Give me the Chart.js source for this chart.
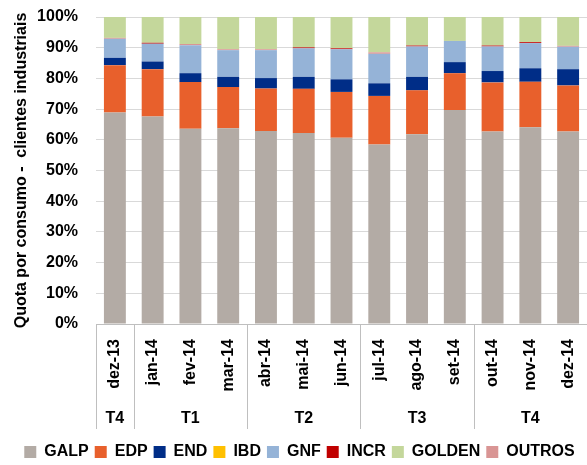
<!DOCTYPE html>
<html>
<head>
<meta charset="utf-8">
<script src="https://cdn.jsdelivr.net/npm/chart.js@4"></script>
<style>
  html, body { margin: 0; padding: 0; background: #fff; }
</style>
</head>
<body>
<canvas id="quota" width="587" height="465"></canvas>
<script>
var meses = ["dez-13", "jan-14", "fev-14", "mar-14", "abr-14", "mai-14", "jun-14",
             "jul-14", "ago-14", "set-14", "out-14", "nov-14", "dez-14"];
var trimestres = ["T4", "T1", "T2", "T3", "T4"];
var trimInicio = [0, 1, 4, 7, 10]; // first month index of each quarter

var galp   = [68.9, 67.6, 63.6, 63.8, 62.9, 62.2, 60.7, 58.5, 61.8, 69.7, 62.7, 64.1, 62.7];
var edp    = [15.4, 15.4, 15.2, 13.4, 13.8, 14.4, 14.9, 15.8, 14.3, 12.0, 16.0, 14.8, 15.0];
var endes  = [2.4, 2.5, 2.9, 3.3, 3.4, 3.9, 4.1, 4.1, 4.4, 3.6, 3.7, 4.4, 5.3];
var ibd    = [0, 0, 0, 0, 0, 0, 0, 0, 0, 0, 0, 0, 0];
var gnf    = [6.2, 5.8, 9.1, 8.7, 9.1, 9.3, 9.8, 9.6, 9.9, 6.9, 8.0, 8.2, 7.3];
var incr   = [0, 0.3, 0, 0, 0, 0.3, 0.3, 0, 0.3, 0, 0.3, 0.3, 0];
var golden = [6.8, 8.4, 8.8, 10.5, 10.5, 9.9, 10.2, 11.5, 9.3, 7.8, 9.3, 8.2, 9.4];
var outros = [0.3, 0, 0.4, 0.3, 0.3, 0, 0, 0.5, 0, 0, 0, 0, 0.3];

var fonte = "'Liberation Sans Narrow', 'Liberation Sans', Arial, sans-serif";

// group labels + separators under the month labels
var trimPlugin = {
    id: "trimestres",
    afterDraw: function (chart) {
        var ctx = chart.ctx;
        var x = chart.scales.x;
        var top = chart.chartArea.bottom;
        var bottom = top + 105;
        var step = x.getPixelForValue(1) - x.getPixelForValue(0);
        ctx.save();
        ctx.strokeStyle = "#BFBFBF";
        ctx.lineWidth = 1;
        var bordas = trimInicio.concat([meses.length]);
        bordas.forEach(function (i) {
            var px = Math.round(x.getPixelForValue(i) - step / 2) + 0.5;
            ctx.beginPath();
            ctx.moveTo(px, top);
            ctx.lineTo(px, bottom);
            ctx.stroke();
        });
        ctx.fillStyle = "#000";
        ctx.font = "bold 16px " + fonte;
        ctx.textAlign = "center";
        ctx.textBaseline = "middle";
        trimestres.forEach(function (t, k) {
            var a = x.getPixelForValue(bordas[k]) - step / 2;
            var b = x.getPixelForValue(bordas[k + 1]) - step / 2;
            ctx.fillText(t, (a + b) / 2, top + 95);
        });
        ctx.restore();
    }
};

function serie(label, data, cor, ordem) {
    return { label: label, data: data, backgroundColor: cor, order: ordem,
             barPercentage: 0.58, categoryPercentage: 1 };
}

new Chart(document.getElementById("quota"), {
    type: "bar",
    data: {
        labels: meses,
        datasets: [
            serie("GALP", galp, "#B3ABA5", 0),
            serie("EDP", edp, "#E8602C", 1),
            serie("END", endes, "#002D87", 2),
            serie("IBD", ibd, "#FFC000", 3),
            serie("GNF", gnf, "#95B3D7", 4),
            serie("INCR", incr, "#C00000", 5),
            serie("GOLDEN", golden, "#C4D79B", 7),
            serie("OUTROS", outros, "#D99594", 6)
        ]
    },
    options: {
        responsive: false,
        animation: false,
        layout: { padding: { top: 17, right: 0, left: 12, bottom: -5 } },
        plugins: {
            tooltip: { enabled: false },
            legend: {
                position: "bottom",
                labels: {
                    color: "#000",
                    font: { family: fonte, size: 16, weight: "bold" },
                    boxWidth: 12,
                    boxHeight: 12,
                    padding: 6,
                    sort: function (a, b) { return a.datasetIndex - b.datasetIndex; }
                }
            }
        },
        scales: {
            x: {
                stacked: true,
                grid: { display: false },
                border: { display: true, color: "#BFBFBF" },
                ticks: {
                    color: "#000",
                    font: { family: fonte, size: 16, weight: "bold" },
                    minRotation: 90,
                    maxRotation: 90,
                    autoSkip: false,
                    padding: 7
                },
                afterFit: function (scale) {
                    scale.height = 114;
                    scale.paddingRight = 0;
                    scale.paddingLeft = 0;
                }
            },
            y: {
                stacked: true,
                min: 0,
                max: 100,
                border: { display: false },
                grid: { color: "#D9D9D9", drawTicks: false },
                ticks: {
                    stepSize: 10,
                    color: "#000",
                    padding: 18,
                    font: { family: fonte, size: 16, weight: "bold" },
                    callback: function (v) { return v + "%"; }
                },
                title: {
                    display: true,
                    text: "Quota por consumo -  clientes industriais",
                    color: "#000",
                    font: { family: fonte, size: 16, weight: "bold" },
                    padding: { top: 0, bottom: 4 }
                },
                afterFit: function (scale) {
                    scale.width = 84;
                    scale.paddingTop = 0;
                    scale.paddingBottom = 0;
                }
            }
        }
    },
    plugins: [trimPlugin]
});
</script>
</body>
</html>
